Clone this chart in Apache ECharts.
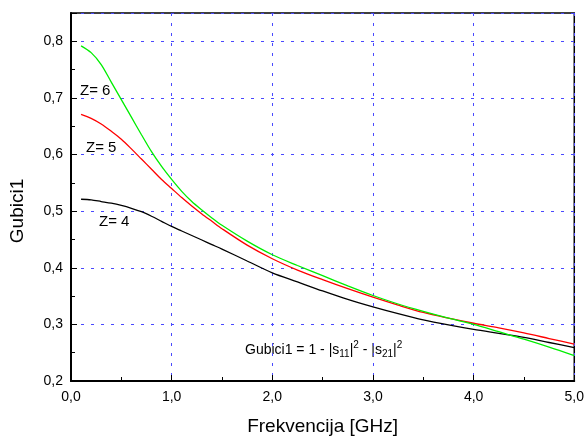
<!DOCTYPE html>
<html>
<head>
<meta charset="utf-8">
<script src="https://cdn.jsdelivr.net/npm/echarts@6/dist/echarts.min.js"></script>
<style>html,body{margin:0;padding:0;background:#fff}#c{width:587px;height:441px}</style>
</head>
<body>
<div id="c"></div>
<script>
var freq = [0.1,0.2,0.3,0.4,0.5,0.6,0.7,0.8,0.9,1.0,1.1,1.2,1.3,1.4,1.5,1.75,2.0,2.25,2.5,2.75,3.0,3.25,3.5,3.75,4.0,4.25,4.5,4.75,5.0];
var z6 = [0.792,0.780,0.759,0.728,0.697,0.666,0.635,0.605,0.579,0.556,0.535,0.517,0.502,0.488,0.475,0.447,0.423,0.404,0.386,0.368,0.351,0.336,0.323,0.311,0.300,0.287,0.274,0.260,0.245];
var z5 = [0.671,0.664,0.654,0.641,0.627,0.610,0.592,0.574,0.556,0.540,0.524,0.509,0.495,0.482,0.469,0.440,0.416,0.396,0.379,0.363,0.348,0.334,0.321,0.311,0.302,0.294,0.285,0.275,0.265];
var z4 = [0.521,0.520,0.517,0.514,0.510,0.505,0.499,0.491,0.482,0.473,0.465,0.457,0.449,0.441,0.433,0.412,0.391,0.375,0.359,0.344,0.331,0.319,0.308,0.299,0.291,0.284,0.277,0.268,0.259];
var seriesNames = ['Z= 6','Z= 5','Z= 4'];
var xTitle = 'Frekvencija [GHz]';
var yTitle = 'Gubici1';

function pairs(ys){ return freq.map(function(f,i){ return [f, ys[i]]; }); }
function comma(v){ return v.toFixed(1).replace('.', ','); }
var FONT = 'Arial, "Liberation Sans", sans-serif';

var chart = echarts.init(document.getElementById('c'), null, {renderer:'canvas'});
var gridLine = {show:true, lineStyle:{color:'#4848ff', type:[3,7], width:1}};
chart.setOption({
  animation:false,
  grid:{left:71, right:11, top:13, bottom:54.5, show:true, borderColor:'#000', borderWidth:1.5, backgroundColor:'transparent'},
  xAxis:{
    type:'value', min:0, max:5, interval:1,
    name:xTitle, nameLocation:'middle', nameGap:36,
    nameTextStyle:{fontFamily:FONT, fontSize:19, color:'#000'},
    axisLine:{show:true, onZero:false, lineStyle:{color:'#000', width:2}},
    axisTick:{show:true, inside:true, length:6, lineStyle:{color:'#000', width:1}},
    minorTick:{show:true, splitNumber:2, length:4, lineStyle:{color:'#000', width:1}},
    axisLabel:{formatter:comma, fontFamily:FONT, fontSize:14, color:'#000', margin:9},
    splitLine:gridLine
  },
  yAxis:{
    type:'value', min:0.2, max:0.85, interval:0.1,
    axisLine:{show:true, onZero:false, lineStyle:{color:'#000', width:2}},
    axisTick:{show:true, inside:true, length:6, lineStyle:{color:'#000', width:1}},
    minorTick:{show:true, splitNumber:2, length:4, lineStyle:{color:'#000', width:1}},
    axisLabel:{formatter:function(v){ return v > 0.84 ? '' : comma(v); }, fontFamily:FONT, fontSize:14, color:'#000', margin:8},
    splitLine:gridLine
  },
  series:[
    {name:seriesNames[0], type:'line', data:pairs(z6), smooth:0.3, symbol:'none', lineStyle:{color:'#00ee00', width:1.3}, z:3},
    {name:seriesNames[1], type:'line', data:pairs(z5), smooth:0.3, symbol:'none', lineStyle:{color:'#ff0000', width:1.3}, z:2},
    {name:seriesNames[2], type:'line', data:pairs(z4), smooth:0.3, symbol:'none', lineStyle:{color:'#000000', width:1.3}, z:1}
  ],
  graphic:[
    {type:'text', x:17.5, y:211, rotation:Math.PI/2, style:{text:yTitle, font:'19px '+FONT, fill:'#000', align:'center', verticalAlign:'middle'}},
    {type:'text', x:80, y:91, style:{text:seriesNames[0], font:'15px '+FONT, fill:'#000', verticalAlign:'middle'}},
    {type:'text', x:86, y:148, style:{text:seriesNames[1], font:'15px '+FONT, fill:'#000', verticalAlign:'middle'}},
    {type:'text', x:99, y:222, style:{text:seriesNames[2], font:'15px '+FONT, fill:'#000', verticalAlign:'middle'}},
    {type:'text', x:245, y:350, style:{
      text:'Gubici1 = 1 - |s{sub|11}|{sup|2} - |s{sub|21}|{sup|2}',
      font:'14px '+FONT, fill:'#000', verticalAlign:'middle',
      rich:{
        sub:{fontSize:10, fontFamily:FONT, fill:'#000', padding:[8,0,0,0]},
        sup:{fontSize:10, fontFamily:FONT, fill:'#000', padding:[0,0,9,0]}
      }
    }}
  ]
});
</script>
</body>
</html>
